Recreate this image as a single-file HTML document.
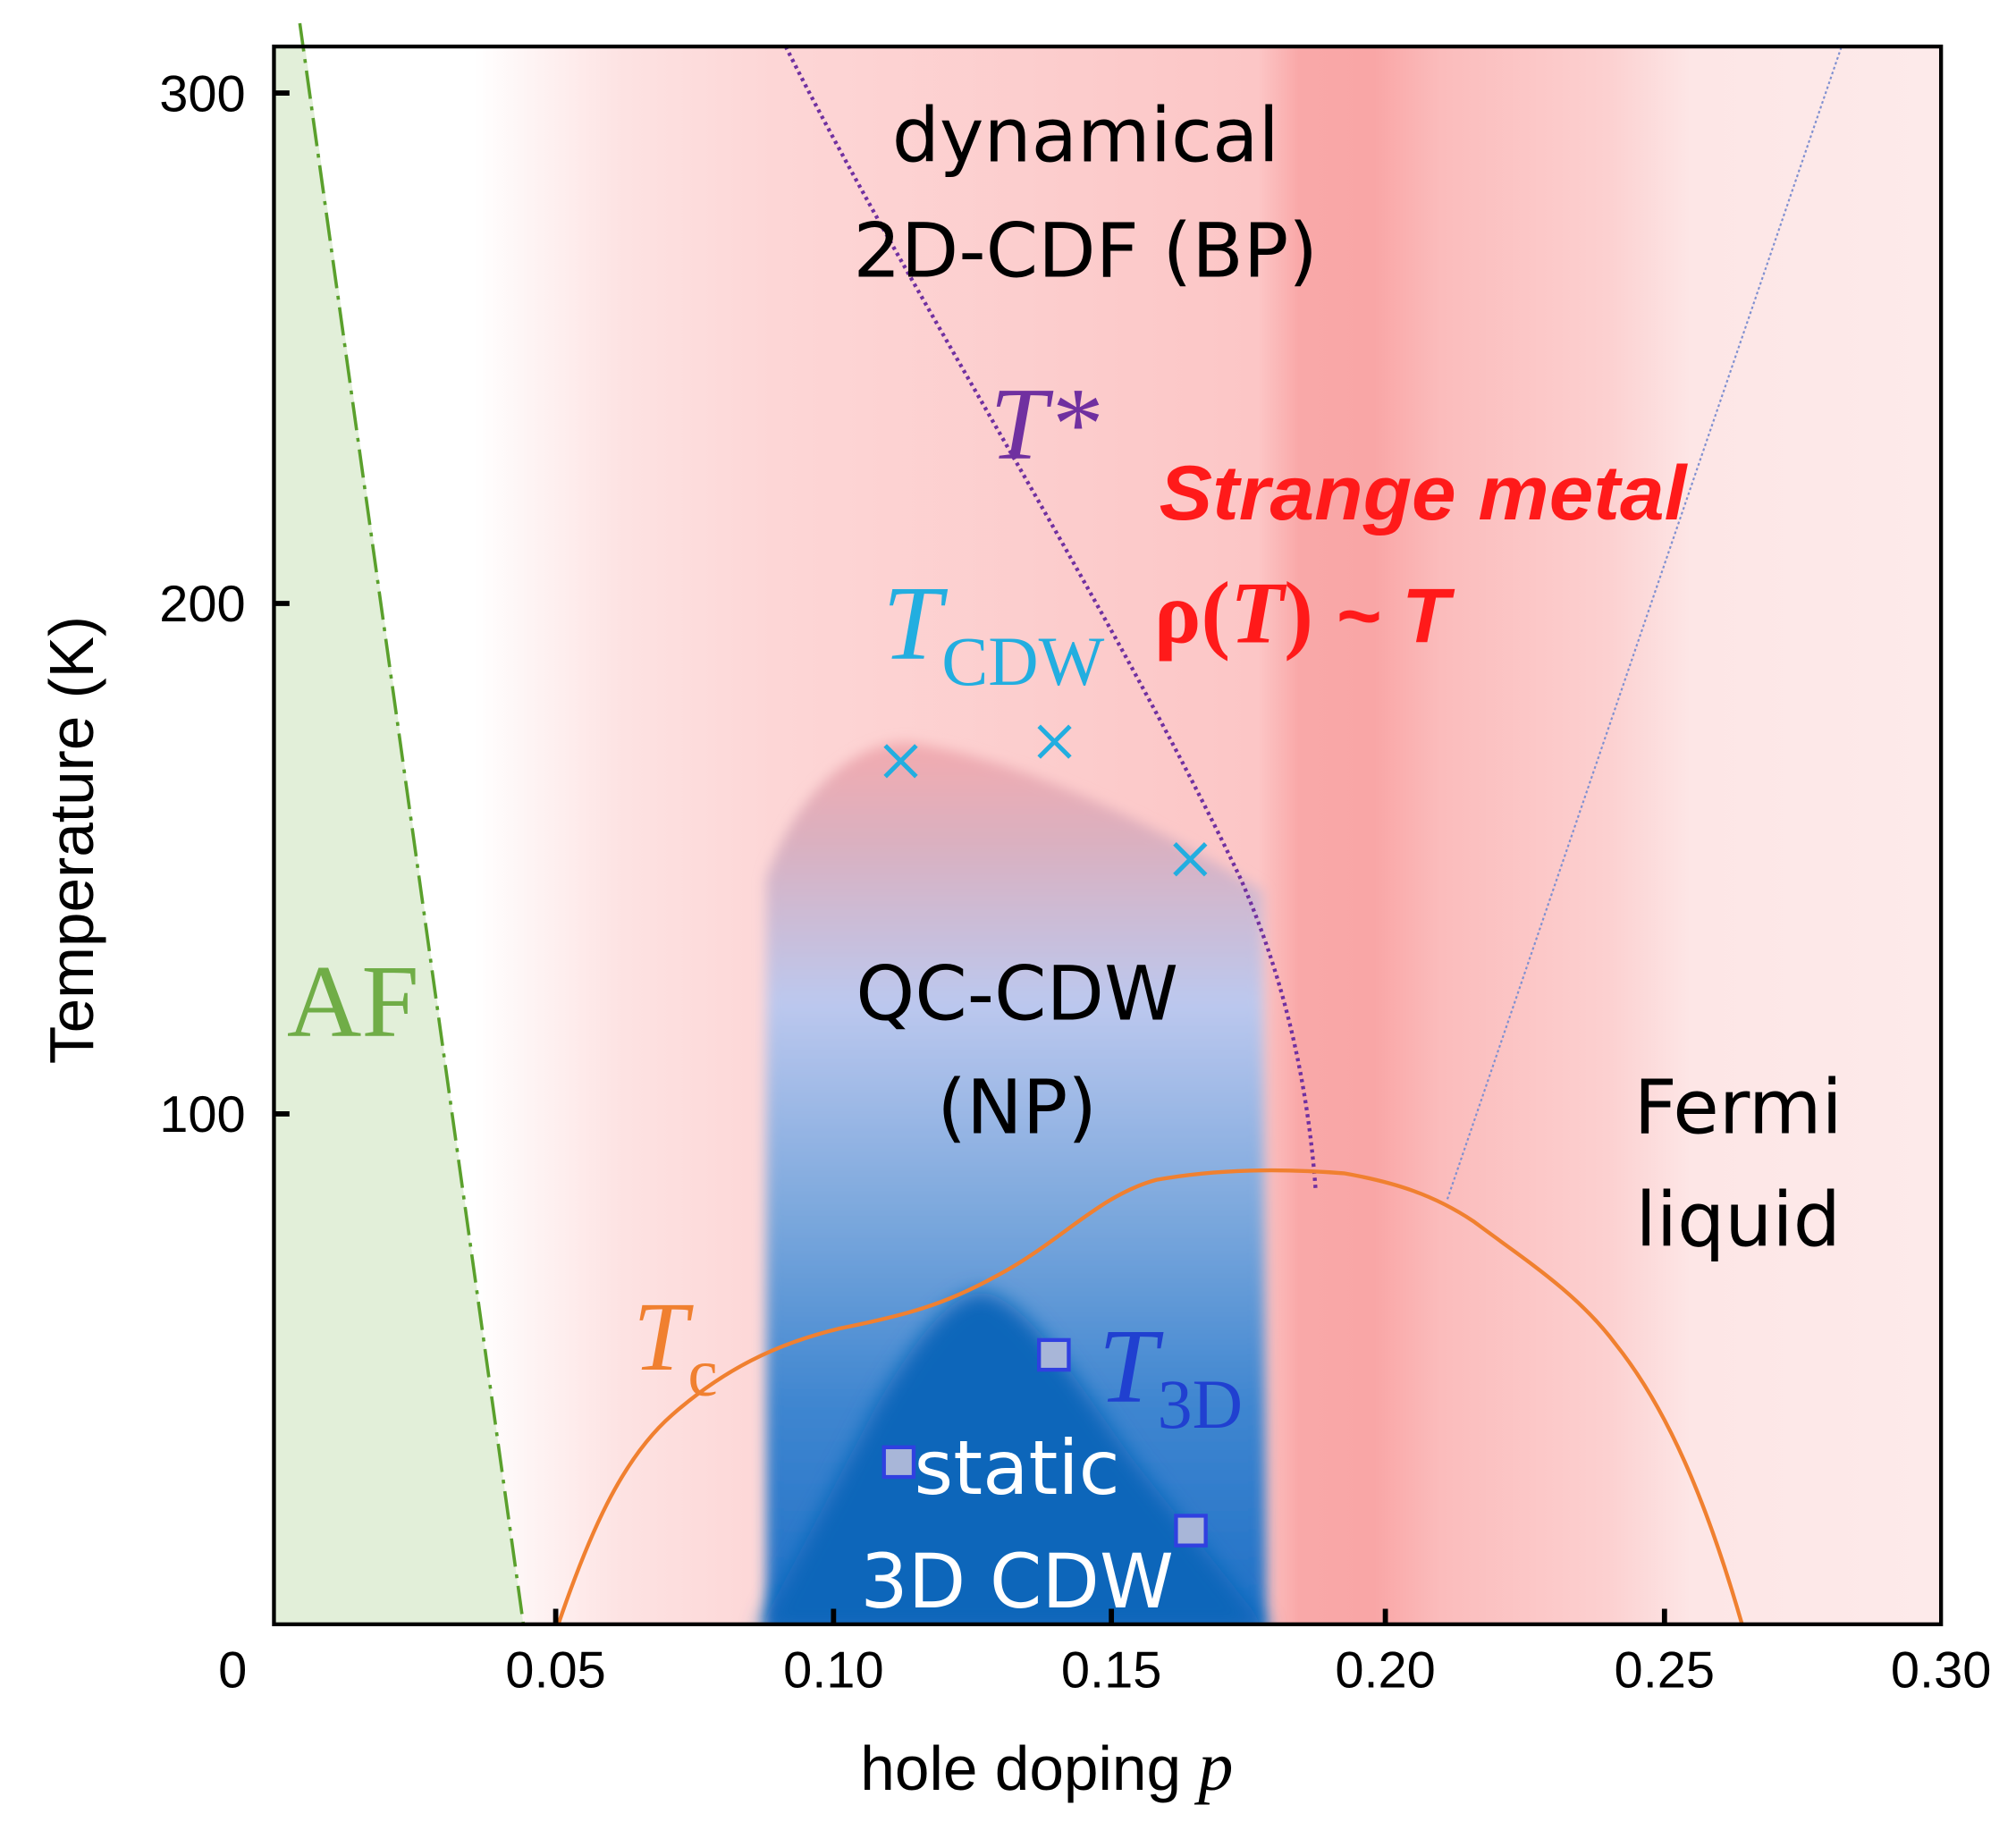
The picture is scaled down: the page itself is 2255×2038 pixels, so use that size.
<!DOCTYPE html>
<html><head><meta charset="utf-8"><style>html,body{margin:0;padding:0;background:#fff}svg{display:block}</style></head>
<body>
<svg width="2255" height="2038" viewBox="0 0 1560 1410" preserveAspectRatio="none" xmlns="http://www.w3.org/2000/svg">
<defs>
<linearGradient id="bg" gradientUnits="userSpaceOnUse" x1="212" y1="0" x2="1502" y2="0">
<stop offset="0" stop-color="#ffffff"/>
<stop offset="0.12" stop-color="#ffffff"/>
<stop offset="0.21" stop-color="#fde2e2"/>
<stop offset="0.30" stop-color="#fdd6d6"/>
<stop offset="0.59" stop-color="#fcc6c6"/>
<stop offset="0.615" stop-color="#f9a8a8"/>
<stop offset="0.66" stop-color="#f9a6a6"/>
<stop offset="0.70" stop-color="#fbbcbc"/>
<stop offset="0.80" stop-color="#fcd0d0"/>
<stop offset="0.85" stop-color="#fde6e6"/>
<stop offset="1" stop-color="#fdeaea"/>
</linearGradient>
<linearGradient id="cdw" x1="0" y1="570" x2="0" y2="1257" gradientUnits="userSpaceOnUse">
<stop offset="0" stop-color="#f4aaae"/>
<stop offset="0.12" stop-color="#dab0c0"/>
<stop offset="0.3" stop-color="#bcc8ee"/>
<stop offset="0.55" stop-color="#78a6dc"/>
<stop offset="0.75" stop-color="#3f86d0"/>
<stop offset="1" stop-color="#1f70c6"/>
</linearGradient>
<filter id="bl" x="-10%" y="-10%" width="120%" height="120%"><feGaussianBlur stdDeviation="5"/></filter>
<filter id="bl2" x="-10%" y="-10%" width="120%" height="120%"><feGaussianBlur stdDeviation="8"/></filter>
<clipPath id="cp"><rect x="212" y="36" width="1290" height="1221"/></clipPath>
</defs>
<g clip-path="url(#cp)">
<rect x="212" y="36" width="1290" height="1221" fill="url(#bg)"/>
<polygon points="212,36 236,36 405,1257 212,1257" fill="#e2efd9"/>
<path d="M593,1262 L593,680 C617,610 667,570 707,575 C797,590 897,640 977,690 L980,1262 Z" fill="url(#cdw)" filter="url(#bl)"/>
<path d="M587,1262 L677,1090 C717,1020 742,1000 762,1000 C797,1010 827,1060 877,1130 L982,1262 Z" fill="#0a66ba" filter="url(#bl2)"/>
</g>
<line x1="232" y1="18" x2="405" y2="1257" stroke="#5aa02c" stroke-width="2.5" stroke-dasharray="22,6,3,6"/>
<path d="M608,36 C700,220 860,470 960,680 C995,760 1012,840 1018,920" fill="none" stroke="#7030a0" stroke-width="3" stroke-dasharray="2.5,3"/>
<line x1="1120" y1="928" x2="1425" y2="36" stroke="#8090d0" stroke-width="1.5" stroke-dasharray="2,2"/>
<path d="M432,1257 C455,1190 480,1130 520,1095 C560,1060 600,1040 650,1028 C700,1018 730,1010 770,988 C820,962 850,925 895,913 C940,905 990,904 1040,908 C1080,915 1110,925 1140,945 C1180,975 1220,1000 1250,1040 C1290,1090 1320,1160 1348,1257" fill="none" stroke="#f08030" stroke-width="3"/>
<g stroke="#22aee0" stroke-width="3.5">
<path d="M685,577 L709,601 M709,577 L685,601"/>
<path d="M804,562 L828,586 M828,562 L804,586"/>
<path d="M909,653 L933,677 M933,653 L909,677"/>
</g>
<g fill="#a8b6d8" stroke="#3040e0" stroke-width="3">
<rect x="804" y="1037" width="23" height="23"/>
<rect x="684" y="1120" width="23" height="23"/>
<rect x="910" y="1173" width="23" height="23"/>
</g>
<rect x="212" y="36" width="1290" height="1221" fill="none" stroke="#000" stroke-width="3"/>
<g stroke="#000" stroke-width="4">
<line x1="430" y1="1257" x2="430" y2="1245"/><line x1="645" y1="1257" x2="645" y2="1245"/>
<line x1="860" y1="1257" x2="860" y2="1245"/><line x1="1072" y1="1257" x2="1072" y2="1245"/>
<line x1="1288" y1="1257" x2="1288" y2="1245"/>
<line x1="212" y1="467" x2="224" y2="467"/><line x1="212" y1="862" x2="224" y2="862"/><line x1="212" y1="72" x2="224" y2="72"/>
</g>
<g font-family="Liberation Sans, sans-serif" font-size="40" fill="#000">
<text x="190" y="86" text-anchor="end">300</text>
<text x="190" y="481" text-anchor="end">200</text>
<text x="190" y="876" text-anchor="end">100</text>
<text x="180" y="1306" text-anchor="middle">0</text>
<text x="430" y="1306" text-anchor="middle">0.05</text>
<text x="645" y="1306" text-anchor="middle">0.10</text>
<text x="860" y="1306" text-anchor="middle">0.15</text>
<text x="1072" y="1306" text-anchor="middle">0.20</text>
<text x="1288" y="1306" text-anchor="middle">0.25</text>
<text x="1502" y="1306" text-anchor="middle">0.30</text>
<text x="810" y="1385" text-anchor="middle" font-size="48">hole doping  <tspan font-family="Liberation Serif, serif" font-style="italic" font-size="54">p</tspan></text>
<text transform="translate(72,650) rotate(-90)" text-anchor="middle" font-size="48">Temperature (K)</text>
</g>
<g font-family="DejaVu Sans, sans-serif" font-size="58" fill="#000" text-anchor="middle">
<text x="840" y="125">dynamical</text>
<text x="840" y="214">2D-CDF (BP)</text>
<text x="787" y="789">QC-CDW</text>
<text x="787" y="877">(NP)</text>
<text x="1345" y="877">Fermi</text>
<text x="1345" y="964">liquid</text>
<text x="787" y="1156" fill="#fff">static</text>
<text x="787" y="1244" fill="#fff">3D CDW</text>
</g>
<g font-family="Liberation Serif, serif">
<text x="766" y="355" font-size="80" font-style="italic" fill="#7030a0">T*</text>
<text x="683" y="510" font-size="82" font-style="italic" fill="#22aee0">T<tspan font-style="normal" font-size="54" dy="20">CDW</tspan></text>
<text x="222" y="802" font-size="80" fill="#70ad47">AF</text>
<text x="490" y="1060" font-size="76" font-style="italic" fill="#f08030">T<tspan font-style="normal" font-size="52" dy="20">c</tspan></text>
<text x="850" y="1085" font-size="82" font-style="italic" fill="#2040d0">T<tspan font-style="normal" font-size="54" dy="20">3D</tspan></text>
<text x="893" y="497" font-size="68" font-weight="bold" fill="#ff1a1a">ρ(<tspan font-style="italic">T</tspan>) <tspan font-family="Liberation Sans, sans-serif" font-style="italic" font-size="60">~ T</tspan></text>
</g>
<text x="897" y="402" font-family="Liberation Sans, sans-serif" font-size="60" font-weight="bold" font-style="italic" fill="#ff1a1a" textLength="408" lengthAdjust="spacingAndGlyphs">Strange metal</text>
</svg>
</body></html>
